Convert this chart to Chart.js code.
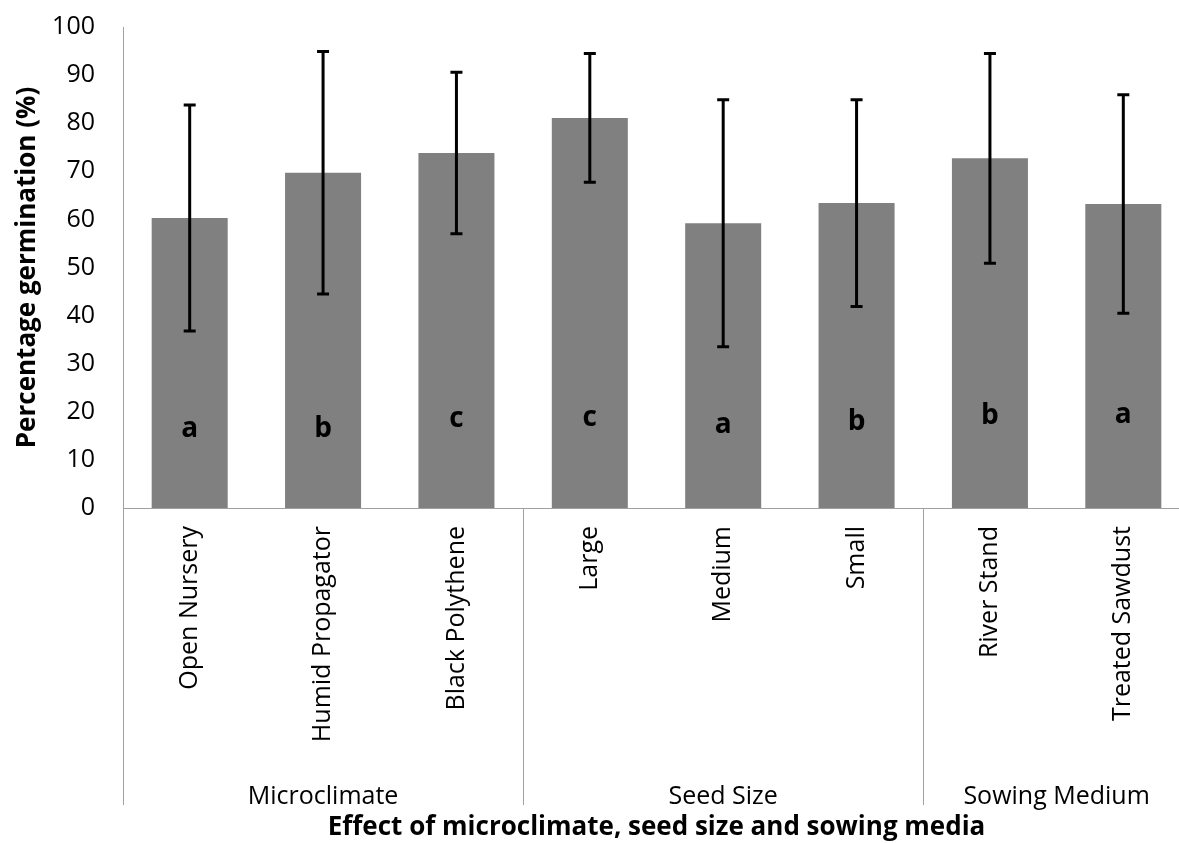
<!DOCTYPE html>
<html>
<head>
<meta charset="utf-8">
<script src="https://cdn.jsdelivr.net/npm/chart.js@4"></script>
<style>
  html, body { margin: 0; padding: 0; background: #fff; overflow: hidden; }
  #wrap { width: 1191px; height: 843px; position: relative; }
</style>
</head>
<body>
<div id="wrap"><canvas id="c"></canvas></div>
<script>
const categories = ['Open Nursery', 'Humid Propagator', 'Black Polythene', 'Large', 'Medium', 'Small', 'River Stand', 'Treated Sawdust'];
const groups = ['Microclimate', 'Seed Size', 'Sowing Medium'];
const groupSizes = [3, 3, 2];
const germination = [60.3, 69.7, 73.8, 81.1, 59.2, 63.4, 72.7, 63.2];
const errors = [23.5, 25.2, 16.8, 13.4, 25.7, 21.5, 21.8, 22.7];
const letters = ['a', 'b', 'c', 'c', 'a', 'b', 'b', 'a'];
const letterLevels = [14.8, 14.8, 16.8, 17.0, 15.6, 16.2, 17.5, 17.7];
const yTicks = [0, 10, 20, 30, 40, 50, 60, 70, 80, 90, 100];

const AXIS = '#a0a0a0';
const FONT = "'Open Sans', sans-serif";
const TEXT = '#000';

const extrasPlugin = {
  id: 'extras',
  afterDatasetsDraw(chart) {
    const ctx = chart.ctx;
    const x = chart.scales.x, y = chart.scales.y;
    const area = chart.chartArea;
    ctx.save();
    // error bars
    ctx.strokeStyle = '#000';
    ctx.lineWidth = 3;
    ctx.lineCap = 'butt';
    germination.forEach((v, i) => {
      const px = x.getPixelForValue(i);
      const top = y.getPixelForValue(v + errors[i]);
      const bot = y.getPixelForValue(v - errors[i]);
      ctx.beginPath();
      ctx.moveTo(px, top); ctx.lineTo(px, bot);
      ctx.moveTo(px - 6, top); ctx.lineTo(px + 6, top);
      ctx.moveTo(px - 6, bot); ctx.lineTo(px + 6, bot);
      ctx.stroke();
    });
    // letters
    ctx.fillStyle = '#000';
    ctx.font = "bold 28px " + FONT;
    ctx.textAlign = 'center';
    ctx.textBaseline = 'alphabetic';
    letters.forEach((t, i) => {
      ctx.fillText(t, x.getPixelForValue(i), y.getPixelForValue(letterLevels[i]));
    });
    // group separators and labels
    ctx.strokeStyle = AXIS;
    ctx.lineWidth = 1;
    const lineBottom = area.bottom + 297;
    let start = 0;
    const bounds = [x.getPixelForValue(-0.5)];
    groupSizes.forEach(n => { start += n; bounds.push(x.getPixelForValue(start - 0.5)); });
    bounds.forEach((bx, k) => {
      if (k === bounds.length - 1) return;
      const xx = Math.round(bx) + 0.5;
      ctx.beginPath();
      ctx.moveTo(xx, area.bottom); ctx.lineTo(xx, lineBottom);
      ctx.stroke();
    });
    ctx.fillStyle = TEXT;
    ctx.font = "25px " + FONT;
    ctx.textAlign = 'center';
    ctx.textBaseline = 'alphabetic';
    groups.forEach((g, k) => {
      ctx.fillText(g, (bounds[k] + bounds[k + 1]) / 2, area.bottom + 296);
    });
    ctx.restore();
  }
};

new Chart(document.getElementById('c'), {
  type: 'bar',
  data: {
    labels: categories,
    datasets: [{
      data: germination,
      backgroundColor: '#808080',
      borderWidth: 0,
      barPercentage: 1,
      categoryPercentage: 0.57
    }]
  },
  options: {
    responsive: true,
    maintainAspectRatio: false,
    animation: false,
    layout: { padding: { top: 27, right: 1, left: 0, bottom: 0 } },
    plugins: { legend: { display: false }, tooltip: { enabled: false } },
    scales: {
      x: {
        grid: { display: false, drawTicks: false },
        border: { display: true, color: AXIS, width: 1 },
        ticks: {
          minRotation: 90, maxRotation: 90, autoSkip: false,
          padding: 18, color: TEXT,
          font: { family: FONT, size: 25 }
        },
        title: {
          display: true,
          text: 'Effect of microclimate, seed size and sowing media',
          color: '#000',
          font: { family: FONT, size: 26, weight: 'bold' },
          padding: { top: 0, bottom: 0 }
        },
        afterFit(scale) { scale.height = 335; scale.paddingLeft = 0; scale.paddingRight = 0; }
      },
      y: {
        min: 0, max: 100,
        afterBuildTicks(scale) { scale.ticks = yTicks.map(v => ({ value: v })); },
        grid: { display: false, drawTicks: false },
        border: { display: true, color: AXIS, width: 1 },
        ticks: {
          padding: 28, color: TEXT,
          font: { family: FONT, size: 25 }
        },
        title: {
          display: true,
          text: 'Percentage germination (%)',
          color: '#000',
          font: { family: FONT, size: 26, weight: 'bold' },
          padding: { top: 12, bottom: 0 }
        },
        afterFit(scale) { scale.width = 123; scale.paddingTop = 0; scale.paddingBottom = 0; }
      }
    }
  },
  plugins: [extrasPlugin]
});
</script>
</body>
</html>
